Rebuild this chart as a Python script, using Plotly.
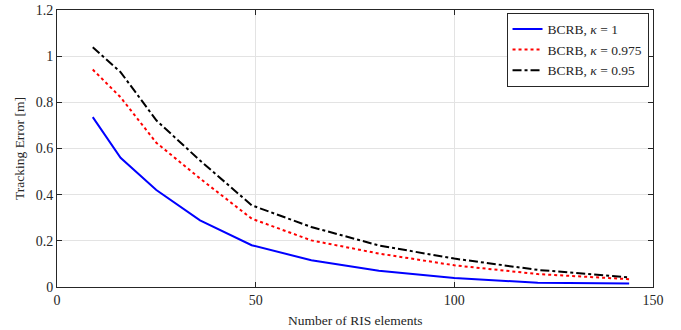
import plotly.graph_objects as go

ris_elements = [9, 16, 25, 36, 49, 64, 81, 100, 121, 144]
bcrb_k1 = [0.736, 0.560, 0.420, 0.289, 0.181, 0.116, 0.070, 0.039, 0.018, 0.015]
bcrb_k0975 = [0.942, 0.822, 0.625, 0.470, 0.296, 0.202, 0.145, 0.094, 0.056, 0.034]
bcrb_k095 = [1.039, 0.931, 0.722, 0.548, 0.354, 0.260, 0.180, 0.123, 0.074, 0.042]
names = ["BCRB, <i>κ</i> = 1", "BCRB, <i>κ</i> = 0.975", "BCRB, <i>κ</i> = 0.95"]
x_ticks = [0, 50, 100, 150]
y_ticks = [0, 0.2, 0.4, 0.6, 0.8, 1.0, 1.2]
y_tick_text = ["0", "0.2", "0.4", "0.6", "0.8", "1", "1.2"]
x_title = "Number of RIS elements"
y_title = "Tracking Error [m]"

FAMILY = "Liberation Serif"
font = dict(family=FAMILY, size=14, color="#262626")
title_font = dict(family=FAMILY, size=13.5, color="#262626")

fig = go.Figure()
fig.add_trace(go.Scatter(x=ris_elements, y=bcrb_k1, mode="lines", name=names[0],
                         line=dict(color="#0000ff", width=2, dash="solid")))
fig.add_trace(go.Scatter(x=ris_elements, y=bcrb_k0975, mode="lines", name=names[1],
                         line=dict(color="#ff0000", width=2, dash="dot")))
fig.add_trace(go.Scatter(x=ris_elements, y=bcrb_k095, mode="lines", name=names[2],
                         line=dict(color="#000000", width=2, dash="dashdot")))

axis_common = dict(showline=True, linecolor="#262626", linewidth=1, mirror="ticks",
                   ticks="inside", ticklen=5, tickcolor="#262626",
                   showgrid=True, gridcolor="#e3e3e3", gridwidth=1, zeroline=False,
                   tickfont=font, automargin=False)
fig.update_layout(
    width=681, height=330,
    margin=dict(l=57, r=28, t=10, b=43),
    paper_bgcolor="white", plot_bgcolor="white",
    font=font,
    showlegend=True,
    legend=dict(x=0.9925, y=0.99, xanchor="right", yanchor="top",
                bgcolor="white", bordercolor="#262626", borderwidth=1,
                font=dict(family=FAMILY, size=13.5, color="#262626"),
                tracegroupgap=0, itemwidth=30),
    annotations=[
        dict(text=x_title, xref="paper", yref="paper", x=0.5, y=0, yshift=-24,
             xanchor="center", yanchor="top", showarrow=False, font=title_font),
        dict(text=y_title, xref="paper", yref="paper", x=0, y=0.5, xshift=-28,
             xanchor="right", yanchor="middle", textangle=-90, showarrow=False, font=title_font),
    ],
)
fig.update_xaxes(range=[0, 150], tickvals=x_ticks, ticktext=[str(v) for v in x_ticks],
                 **axis_common)
fig.update_yaxes(range=[0, 1.2], tickvals=y_ticks, ticktext=y_tick_text,
                 **axis_common)

fig.write_html("out.html", config={"displayModeBar": False},
               post_script="document.body.style.margin='0';")
